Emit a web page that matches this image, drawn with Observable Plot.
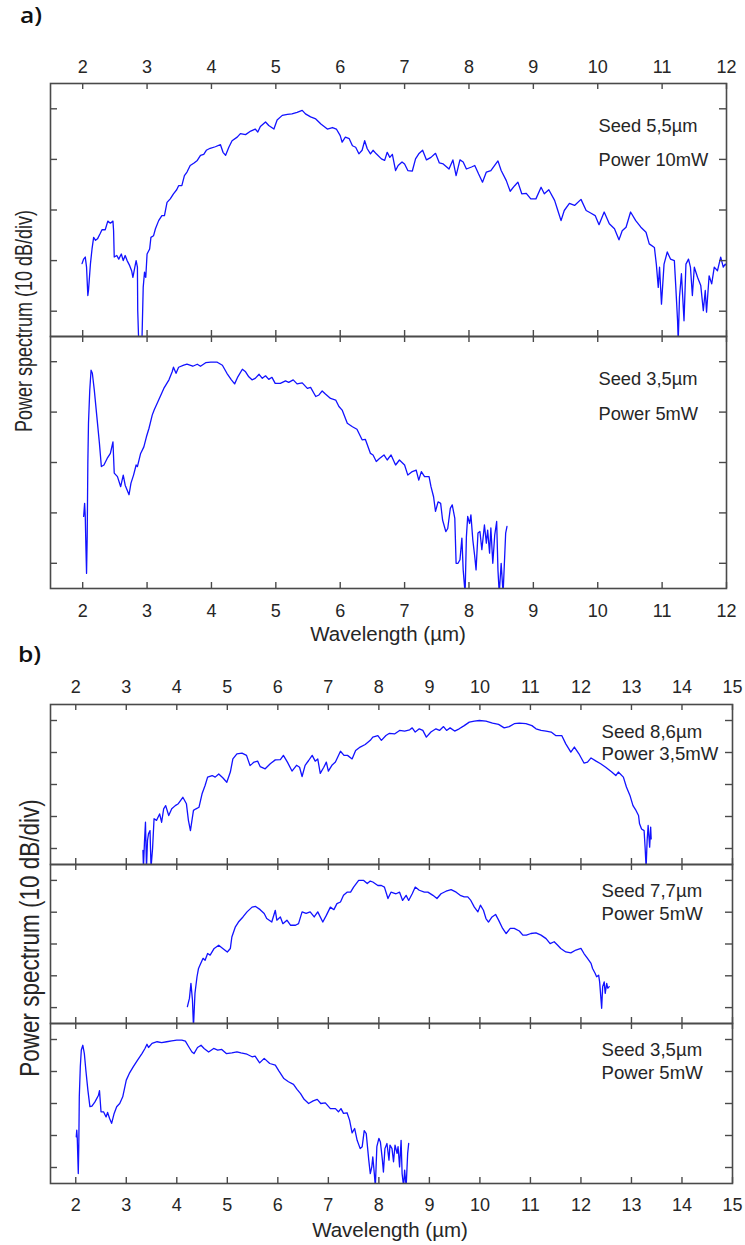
<!DOCTYPE html>
<html>
<head>
<meta charset="utf-8">
<script src="https://cdn.jsdelivr.net/npm/d3@7"></script>
<script src="https://cdn.jsdelivr.net/npm/@observablehq/plot@0.6"></script>
<style>
  html, body { margin: 0; padding: 0; background: #fff; }
  #root { position: relative; width: 745px; height: 1245px; overflow: hidden; background: #fff; }
</style>
</head>
<body>
<div id="root"></div>
<script>
// ---------- tick values ----------
const xTicksA = [2, 3, 4, 5, 6, 7, 8, 9, 10, 11, 12];
const xTicksB = [2, 3, 4, 5, 6, 7, 8, 9, 10, 11, 12, 13, 14, 15];
const yTicks = [0, 10, 20, 30, 40]; // 10 dB per division
const xDomainA = [1.5, 12];
const xDomainB = [1.5, 15];
const yDomain = [-5, 45];

// ---------- labels ----------
const panelLabels = ["a)", "b)"];
const xTitle = "Wavelength (µm)";
const yTitle = "Power spectrum (10 dB/div)";
const annA1 = ["Seed 5,5µm", "Power 10mW"];
const annA2 = ["Seed 3,5µm", "Power 5mW"];
const annB1 = ["Seed 8,6µm", "Power 3,5mW"];
const annB2 = ["Seed 7,7µm", "Power 5mW"];
const annB3 = ["Seed 3,5µm", "Power 5mW"];

// ---------- spectra: [wavelength µm, relative power dB] ----------
const seed55_10mW = [[1.99,9.4],[2.015,10.3],[2.04,10.7],[2.06,8.7],[2.08,3.1],[2.09,4.1],[2.12,9.3],[2.145,12.3],[2.17,14.6],[2.2,14.0],[2.23,14.3],[2.27,15.3],[2.3,16.1],[2.35,16.1],[2.39,17.8],[2.43,17.4],[2.47,17.8],[2.48,15.9],[2.49,10.7],[2.53,11.0],[2.56,10.3],[2.6,11.3],[2.63,10.0],[2.66,11.0],[2.69,10.0],[2.73,9.0],[2.76,8.0],[2.78,6.7],[2.81,8.7],[2.83,10.0],[2.85,8.7],[2.855,0.1],[2.87,-6],[2.9,-6],[2.92,-6],[2.94,4.7],[2.96,7.7],[2.98,6.7],[3.0,11.3],[3.04,12.3],[3.06,14.6],[3.1,14.9],[3.13,16.3],[3.18,17.9],[3.23,18.9],[3.27,18.9],[3.31,21.5],[3.36,22.2],[3.41,23.2],[3.46,24.0],[3.49,24.8],[3.54,24.8],[3.58,26.8],[3.62,27.5],[3.67,28.8],[3.73,29.3],[3.78,29.8],[3.83,30.8],[3.88,31.0],[3.92,31.8],[3.98,32.2],[4.06,32.5],[4.14,32.9],[4.18,31.4],[4.22,30.8],[4.27,32.4],[4.32,33.7],[4.4,34.4],[4.45,35.1],[4.53,34.9],[4.61,35.6],[4.68,36.0],[4.72,35.4],[4.76,36.5],[4.84,37.4],[4.89,36.7],[4.97,36.0],[5.02,37.8],[5.1,38.7],[5.18,38.9],[5.25,39.0],[5.33,39.3],[5.41,39.7],[5.46,39.0],[5.54,38.4],[5.62,38.0],[5.7,37.0],[5.8,36.0],[5.88,36.3],[5.94,36.0],[6.0,34.7],[6.03,33.4],[6.08,34.4],[6.14,34.1],[6.19,32.7],[6.24,32.4],[6.29,31.1],[6.34,31.8],[6.38,33.7],[6.42,32.1],[6.47,31.1],[6.51,31.8],[6.56,31.1],[6.64,30.1],[6.69,29.8],[6.73,31.4],[6.77,30.4],[6.81,31.0],[6.86,27.8],[6.9,28.8],[6.96,29.5],[7.0,29.1],[7.05,27.8],[7.12,27.7],[7.17,30.1],[7.22,31.1],[7.28,31.8],[7.34,29.9],[7.41,30.4],[7.48,31.2],[7.54,29.3],[7.6,29.1],[7.69,28.1],[7.75,29.9],[7.8,26.8],[7.86,29.9],[7.91,29.5],[7.96,28.1],[8.04,28.5],[8.09,28.8],[8.15,27.1],[8.21,25.5],[8.27,27.5],[8.34,27.8],[8.45,29.7],[8.5,27.8],[8.58,25.8],[8.64,23.7],[8.71,24.8],[8.76,25.5],[8.82,23.2],[8.89,23.3],[8.96,22.2],[9.04,22.2],[9.12,24.5],[9.17,23.2],[9.24,24.0],[9.33,21.9],[9.38,19.9],[9.43,17.9],[9.48,19.9],[9.56,21.3],[9.64,20.9],[9.74,22.1],[9.82,19.9],[9.89,19.4],[9.96,18.9],[10.02,17.1],[10.1,19.6],[10.18,17.3],[10.26,16.3],[10.33,14.1],[10.38,15.9],[10.44,16.6],[10.51,19.6],[10.59,17.9],[10.67,16.6],[10.75,15.6],[10.8,13.3],[10.88,12.6],[10.91,9.3],[10.94,4.7],[10.96,8.7],[10.99,1.4],[11.03,9.3],[11.08,11.7],[11.13,10.3],[11.19,10.0],[11.21,5.4],[11.24,-1.9],[11.25,-6],[11.27,2.8],[11.3,7.4],[11.34,-1.9],[11.37,9.3],[11.41,10.3],[11.44,8.7],[11.47,3.1],[11.5,8.7],[11.55,6.7],[11.6,5.1],[11.64,0.1],[11.67,4.1],[11.69,-0.2],[11.73,7.0],[11.77,5.4],[11.81,8.7],[11.86,8.0],[11.91,10.7],[11.95,8.7],[11.98,9.3],[12.0,9.0]];

const seed35_5mW_a = [[2.015,9.3],[2.03,11.9],[2.04,9.3],[2.05,3.3],[2.06,-2],[2.07,5.3],[2.08,19.8],[2.09,27.8],[2.11,34.4],[2.13,38.3],[2.15,37.7],[2.18,34.4],[2.22,29.1],[2.26,23.8],[2.29,19.2],[2.33,19.5],[2.38,20.8],[2.43,21.8],[2.47,24.1],[2.49,17.9],[2.54,17.2],[2.59,15.2],[2.63,17.5],[2.66,15.5],[2.72,13.6],[2.75,15.9],[2.79,17.5],[2.83,19.5],[2.85,19.2],[2.9,21.8],[2.95,23.1],[2.99,25.1],[3.03,26.8],[3.08,29.4],[3.11,30.4],[3.18,32.4],[3.26,34.7],[3.34,36.4],[3.39,38.0],[3.41,38.9],[3.45,37.7],[3.49,38.9],[3.57,39.3],[3.62,39.5],[3.71,39.1],[3.78,39.5],[3.83,39.1],[3.91,39.8],[3.99,39.9],[4.09,39.9],[4.17,39.3],[4.24,37.7],[4.31,36.4],[4.36,35.6],[4.41,37.0],[4.48,38.5],[4.53,38.0],[4.58,37.0],[4.63,36.4],[4.68,36.7],[4.74,37.5],[4.79,36.7],[4.84,37.2],[4.89,36.5],[4.94,36.9],[4.99,35.7],[5.07,35.7],[5.15,36.2],[5.2,35.9],[5.27,36.4],[5.33,35.6],[5.41,35.8],[5.49,34.7],[5.54,34.9],[5.62,33.1],[5.67,33.4],[5.72,34.2],[5.77,33.6],[5.85,32.7],[5.93,32.4],[5.98,31.1],[6.03,30.4],[6.11,27.8],[6.19,27.1],[6.26,26.6],[6.34,24.5],[6.39,24.6],[6.47,21.8],[6.51,21.5],[6.56,20.2],[6.61,20.8],[6.68,21.5],[6.73,20.5],[6.79,21.5],[6.86,19.5],[6.92,20.5],[7.0,19.5],[7.05,17.5],[7.12,18.2],[7.18,18.5],[7.22,16.5],[7.26,18.2],[7.31,17.2],[7.38,17.2],[7.41,15.2],[7.45,13.2],[7.48,10.3],[7.52,12.2],[7.56,11.9],[7.59,8.6],[7.64,6.3],[7.67,6.9],[7.71,10.9],[7.74,11.6],[7.78,8.9],[7.8,0.0],[7.83,0.0],[7.86,0.7],[7.89,5.0],[7.91,-1.3],[7.94,-6],[7.96,5.3],[7.98,9.3],[8.01,7.9],[8.03,9.6],[8.06,4.6],[8.09,1.3],[8.11,-1.3],[8.14,6.0],[8.17,6.3],[8.2,2.7],[8.24,7.6],[8.27,4.0],[8.29,6.6],[8.32,2.0],[8.34,7.0],[8.37,0],[8.4,5.6],[8.43,8.3],[8.45,-1.3],[8.47,-6],[8.5,0],[8.53,-6],[8.55,0],[8.57,6.0],[8.59,7.3]];

const seed86_35mW = [[3.33,-0.6],[3.34,-6],[3.36,2],[3.38,8.2],[3.4,-6],[3.42,2.5],[3.44,4.6],[3.47,5.6],[3.49,-6],[3.52,-0.1],[3.55,9.3],[3.6,8.8],[3.66,10.8],[3.7,8.2],[3.74,12.4],[3.78,13.4],[3.84,10.3],[3.9,12.4],[3.97,13.4],[4.03,14.0],[4.12,16.0],[4.19,14.0],[4.23,8.8],[4.27,5.6],[4.3,8.8],[4.33,11.9],[4.38,12.4],[4.44,12.9],[4.5,17.1],[4.56,19.7],[4.61,22.3],[4.7,22.8],[4.76,22.3],[4.83,23.3],[4.91,22.1],[4.99,20.7],[5.06,23.9],[5.11,28.0],[5.19,29.6],[5.29,29.8],[5.38,29.1],[5.45,25.9],[5.53,27.0],[5.6,27.3],[5.65,25.6],[5.75,24.9],[5.85,26.5],[5.95,27.7],[6.05,27.8],[6.11,29.1],[6.19,27.0],[6.28,24.2],[6.37,26.0],[6.43,25.4],[6.48,22.5],[6.54,26.0],[6.61,27.5],[6.68,29.1],[6.74,27.3],[6.79,28.0],[6.84,23.5],[6.91,25.4],[6.96,27.0],[7.0,24.2],[7.07,26.0],[7.14,27.0],[7.24,30.4],[7.31,29.1],[7.38,29.1],[7.47,28.0],[7.54,30.6],[7.63,31.7],[7.73,32.5],[7.83,33.8],[7.88,34.8],[7.98,35.3],[8.05,33.8],[8.14,35.3],[8.21,36.0],[8.31,35.8],[8.41,36.9],[8.51,36.7],[8.61,37.1],[8.66,37.7],[8.72,36.4],[8.8,37.4],[8.87,36.9],[8.94,34.8],[9.03,36.4],[9.13,37.4],[9.2,36.9],[9.28,38.1],[9.34,36.9],[9.41,37.7],[9.5,36.7],[9.59,37.4],[9.69,38.4],[9.79,39.5],[9.89,39.8],[9.99,40.0],[10.12,39.8],[10.25,39.2],[10.37,38.8],[10.48,37.7],[10.58,38.1],[10.68,39.0],[10.78,39.2],[10.91,39.0],[11.03,38.4],[11.11,37.4],[11.21,36.9],[11.31,36.7],[11.41,36.4],[11.5,35.3],[11.62,35.3],[11.7,32.7],[11.8,30.1],[11.87,31.7],[11.96,29.6],[12.06,26.7],[12.13,27.0],[12.2,28.3],[12.3,27.3],[12.39,26.5],[12.49,25.4],[12.61,23.9],[12.69,22.8],[12.74,23.9],[12.84,22.3],[12.9,19.2],[12.97,16.6],[13.03,13.4],[13.09,11.9],[13.14,10.3],[13.16,7.7],[13.2,6.1],[13.25,5.6],[13.27,0.4],[13.29,-6],[13.31,2.5],[13.33,7.2],[13.36,0.4],[13.38,6.7],[13.39,3.0]];

const seed77_5mW = [[4.21,0.3],[4.25,2.9],[4.28,7.6],[4.31,2.4],[4.33,-6],[4.36,4.5],[4.4,9.7],[4.43,12.3],[4.46,13.4],[4.52,15.5],[4.56,14.9],[4.61,17.0],[4.66,16.5],[4.74,18.6],[4.83,19.6],[4.91,18.6],[5.0,17.5],[5.06,18.6],[5.09,22.2],[5.16,25.4],[5.22,26.9],[5.31,28.5],[5.39,30.1],[5.49,31.6],[5.56,31.8],[5.65,30.8],[5.73,29.6],[5.78,28.0],[5.88,26.9],[5.95,30.6],[5.98,27.5],[6.05,28.5],[6.1,26.4],[6.18,27.5],[6.25,25.9],[6.35,25.9],[6.41,26.4],[6.48,30.1],[6.56,29.6],[6.64,30.1],[6.72,28.5],[6.79,30.1],[6.89,26.9],[6.96,29.0],[7.04,31.6],[7.11,30.8],[7.17,32.7],[7.24,33.2],[7.3,35.3],[7.37,36.3],[7.44,36.3],[7.5,37.9],[7.6,40.0],[7.7,40.0],[7.77,39.0],[7.83,39.8],[7.88,39.5],[7.98,38.4],[8.05,38.4],[8.11,37.9],[8.18,34.3],[8.24,36.3],[8.34,35.8],[8.41,36.3],[8.47,33.7],[8.54,35.3],[8.59,33.7],[8.66,35.8],[8.72,37.9],[8.8,36.9],[8.9,36.3],[8.97,36.3],[9.07,35.3],[9.15,34.3],[9.23,35.8],[9.33,36.6],[9.43,37.1],[9.53,36.3],[9.61,35.3],[9.69,34.8],[9.76,34.8],[9.82,33.7],[9.89,31.6],[9.96,30.1],[10.01,32.2],[10.07,30.6],[10.12,28.0],[10.17,26.9],[10.24,28.5],[10.31,29.3],[10.37,27.5],[10.45,24.9],[10.52,23.3],[10.6,24.9],[10.68,24.9],[10.78,24.1],[10.85,22.8],[10.92,22.8],[11.01,23.3],[11.11,23.5],[11.21,22.8],[11.31,21.7],[11.39,20.1],[11.47,20.7],[11.54,19.6],[11.6,18.6],[11.7,17.5],[11.8,17.2],[11.9,18.1],[12.0,18.6],[12.06,17.0],[12.13,15.5],[12.2,13.9],[12.23,12.3],[12.28,10.8],[12.31,9.7],[12.35,10.2],[12.37,8.1],[12.39,4.0],[12.41,-0.2],[12.43,6.6],[12.46,8.1],[12.48,4.5],[12.51,7.6],[12.53,6.1],[12.56,6.6]];

const seed35_5mW_b = [[2.01,9.6],[2.02,11.7],[2.03,9.1],[2.05,-1.9],[2.06,6.5],[2.07,22.1],[2.09,31.5],[2.11,36.7],[2.14,38.2],[2.17,35.6],[2.2,30.4],[2.24,24.2],[2.28,19.0],[2.32,19.2],[2.38,20.5],[2.45,22.6],[2.47,24.0],[2.5,17.4],[2.55,17.4],[2.6,15.8],[2.63,17.2],[2.67,15.3],[2.71,13.8],[2.76,16.9],[2.81,19.0],[2.87,20.0],[2.93,22.1],[3.0,27.3],[3.06,29.4],[3.14,31.5],[3.22,33.5],[3.31,35.6],[3.37,37.2],[3.41,38.5],[3.44,37.5],[3.51,38.8],[3.61,39.3],[3.7,39.0],[3.8,39.3],[3.9,39.6],[4.0,39.8],[4.1,39.8],[4.17,39.5],[4.23,37.9],[4.3,36.1],[4.34,35.6],[4.41,37.5],[4.48,38.2],[4.54,37.2],[4.63,36.1],[4.73,37.2],[4.81,36.7],[4.89,36.9],[4.98,35.6],[5.09,35.8],[5.19,36.1],[5.27,35.8],[5.39,35.4],[5.49,34.6],[5.55,34.8],[5.64,32.7],[5.73,34.1],[5.84,32.5],[5.95,32.0],[6.02,30.2],[6.12,27.8],[6.21,26.8],[6.31,26.0],[6.38,24.4],[6.45,23.1],[6.52,21.3],[6.61,20.0],[6.7,20.8],[6.78,21.3],[6.85,20.0],[6.94,20.2],[7.04,18.4],[7.14,18.4],[7.2,17.4],[7.25,18.4],[7.3,16.9],[7.37,17.1],[7.42,14.8],[7.47,10.8],[7.52,12.2],[7.57,8.5],[7.63,5.9],[7.67,6.5],[7.71,11.5],[7.75,10.6],[7.8,2.3],[7.83,-1.9],[7.86,0.2],[7.88,3.3],[7.91,-1.9],[7.93,-6],[7.96,6.5],[8.0,9.1],[8.03,8.0],[8.07,2.3],[8.09,-1.4],[8.12,5.9],[8.16,7.5],[8.2,2.3],[8.22,7.0],[8.26,5.9],[8.29,1.8],[8.32,7.0],[8.36,4.4],[8.38,6.5],[8.41,0.2],[8.44,8.5],[8.46,-1.9],[8.49,-6],[8.51,-0.8],[8.54,-6],[8.57,4.4],[8.59,7.5]];

// ---------- style ----------
const LINE = "#1212ff";
const AXC = "#4a4a4a";
const TXT = "#262626";
const FONT = "'Liberation Sans', Arial, Helvetica, sans-serif";
const W = 745;
const root = document.getElementById("root");

function subplot(o) {
  const {frameTop, frameBottom, marginRight, xDomain, xTicks, data, ann, annDx, annDy, annSize, labelAnchor, labelDy} = o;
  const mt = 40, mb = 40;
  const fh = frameBottom - frameTop;
  const fw = W - 50 - marginRight;
  const marks = [
    Plot.line(data, {x: d => d[0], y: d => d[1], stroke: LINE, strokeWidth: 1.3, clip: true}),
    Plot.frame({stroke: AXC, strokeWidth: 1.6}),
    Plot.tickX(xTicks, {x: d => d, insetBottom: fh - 6, stroke: AXC, strokeWidth: 1.4}),
    Plot.tickX(xTicks, {x: d => d, insetTop: fh - 6, stroke: AXC, strokeWidth: 1.4}),
    Plot.tickY(yTicks, {y: d => d, insetRight: fw - 7, stroke: AXC, strokeWidth: 1.4}),
    Plot.tickY(yTicks, {y: d => d, insetLeft: fw - 7, stroke: AXC, strokeWidth: 1.4}),
    Plot.text([ann[0]], {text: d => d, frameAnchor: "top-right", dx: annDx, dy: annDy[0], textAnchor: "start", lineAnchor: "middle", fontSize: annSize, fill: TXT}),
    Plot.text([ann[1]], {text: d => d, frameAnchor: "top-right", dx: annDx, dy: annDy[1], textAnchor: "start", lineAnchor: "middle", fontSize: annSize, fill: TXT})
  ];
  if (labelAnchor) {
    marks.push(Plot.text(xTicks, {x: d => d, text: d => String(d), frameAnchor: labelAnchor, dy: labelDy, lineAnchor: "middle", textAnchor: "middle", fontSize: 18, fill: TXT}));
  }
  const svg = Plot.plot({
    width: W,
    height: mt + fh + mb,
    marginTop: mt,
    marginBottom: mb,
    marginLeft: 50,
    marginRight,
    x: {domain: xDomain, axis: null},
    y: {domain: yDomain, axis: null},
    style: {background: "transparent", overflow: "visible", fontFamily: FONT, color: TXT},
    marks
  });
  svg.style.position = "absolute";
  svg.style.left = "0px";
  svg.style.top = (frameTop - mt) + "px";
  root.appendChild(svg);
}

// Panel a
subplot({frameTop: 83, frameBottom: 336, marginRight: 19, xDomain: xDomainA, xTicks: xTicksA, data: seed55_10mW,
  ann: annA1, annDx: -128, annDy: [43, 77], annSize: 18.3, labelAnchor: "top", labelDy: -16});
subplot({frameTop: 336, frameBottom: 588, marginRight: 19, xDomain: xDomainA, xTicks: xTicksA, data: seed35_5mW_a,
  ann: annA2, annDx: -128, annDy: [42.3, 77.3], annSize: 18.3, labelAnchor: "bottom", labelDy: 23});
// Panel b
subplot({frameTop: 704, frameBottom: 864, marginRight: 13, xDomain: xDomainB, xTicks: xTicksB, data: seed86_35mW,
  ann: annB1, annDx: -131, annDy: [27.5, 49.3], annSize: 18.6, labelAnchor: "top", labelDy: -17});
subplot({frameTop: 864, frameBottom: 1023, marginRight: 13, xDomain: xDomainB, xTicks: xTicksB, data: seed77_5mW,
  ann: annB2, annDx: -131, annDy: [27, 49.5], annSize: 18.6});
subplot({frameTop: 1023, frameBottom: 1183, marginRight: 13, xDomain: xDomainB, xTicks: xTicksB, data: seed35_5mW_b,
  ann: annB3, annDx: -131, annDy: [27, 50], annSize: 18.6, labelAnchor: "bottom", labelDy: 22});

// ---------- titles (real text overlay) ----------
const ov = d3.select(root).append("svg")
  .attr("width", W).attr("height", 1245)
  .style("position", "absolute").style("left", "0px").style("top", "0px")
  .style("pointer-events", "none");

ov.append("text").attr("transform", "translate(20,23) scale(1.12,1)").text(panelLabels[0])
  .attr("font-family", "'Open Sans', Lato, sans-serif").attr("font-weight", 600).attr("font-size", 22).attr("fill", "#111");
ov.append("text").attr("transform", "translate(18,662) scale(1.12,1)").text(panelLabels[1])
  .attr("font-family", "'Open Sans', Lato, sans-serif").attr("font-weight", 600).attr("font-size", 22).attr("fill", "#111");

ov.append("text").attr("x", 388).attr("y", 641).attr("text-anchor", "middle").text(xTitle)
  .attr("font-family", FONT).attr("font-size", 20.5).attr("fill", TXT);
ov.append("text").attr("x", 390).attr("y", 1236.5).attr("text-anchor", "middle").text(xTitle)
  .attr("font-family", FONT).attr("font-size", 20.5).attr("fill", TXT);

ov.append("text").attr("text-anchor", "middle").text(yTitle)
  .attr("transform", "translate(32,321) rotate(-90) scale(1,1.35)")
  .attr("font-family", FONT).attr("font-size", 18).attr("fill", TXT);
ov.append("text").attr("text-anchor", "middle").text(yTitle)
  .attr("transform", "translate(39,938) rotate(-90) scale(1,1.25)")
  .attr("font-family", FONT).attr("font-size", 22.5).attr("fill", TXT);
</script>
</body>
</html>
